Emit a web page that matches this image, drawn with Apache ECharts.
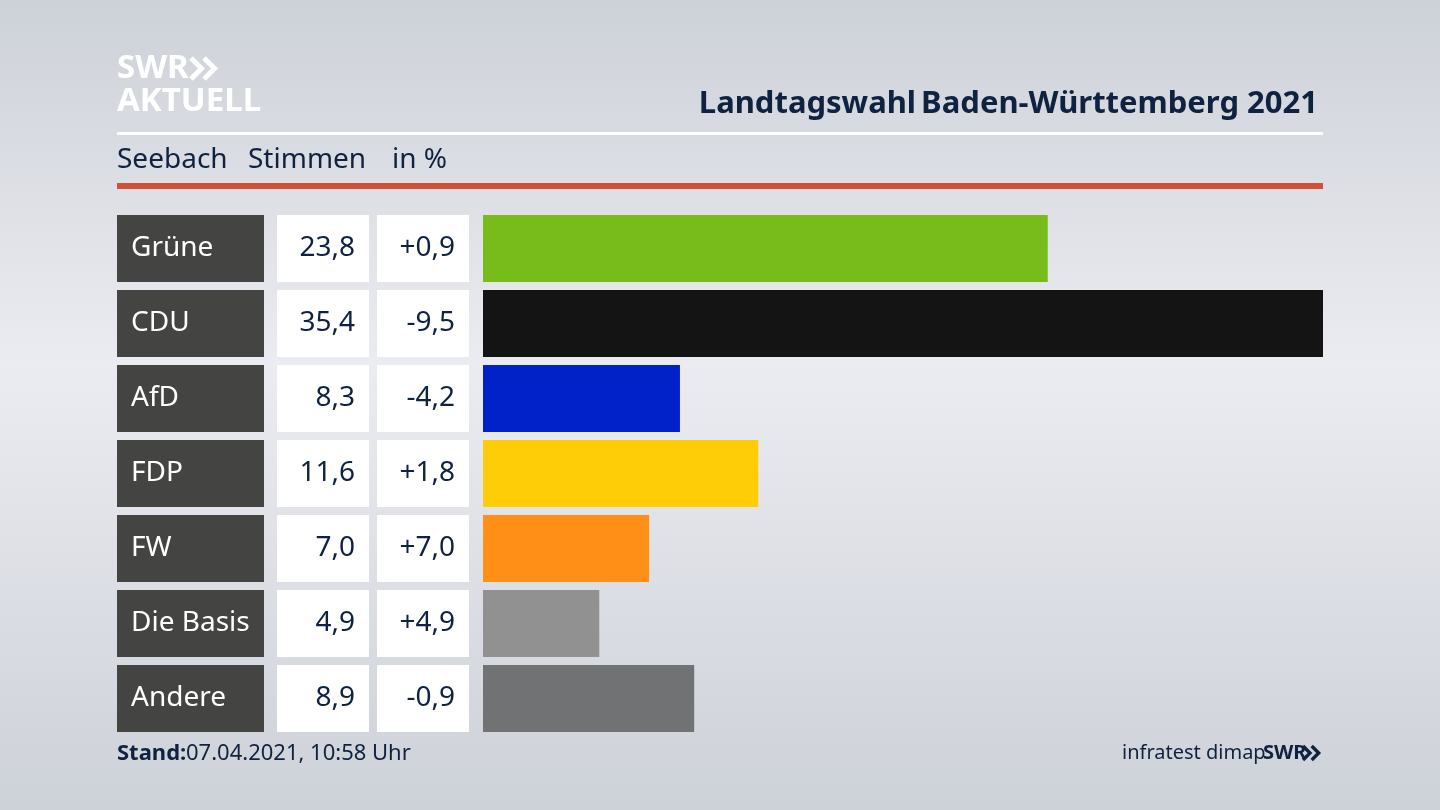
<!DOCTYPE html>
<html lang="de">
<head>
    <meta charset="UTF-8">
    <title>Landtagswahl Baden-Württemberg 2021</title>
    <script src="https://cdn.jsdelivr.net/npm/echarts@6/dist/echarts.min.js"></script>
    <style>
        html, body { margin: 0; padding: 0; }
        #chart { width: 1440px; height: 810px; }
    </style>
</head>
<body>
    <div id="chart"></div>
    <script>
        var parties = ['Grüne', 'CDU', 'AfD', 'FDP', 'FW', 'Die Basis', 'Andere'];
        var shares = [23.8, 35.4, 8.3, 11.6, 7.0, 4.9, 8.9];
        var changes = ['+0,9', '-9,5', '-4,2', '+1,8', '+7,0', '+4,9', '-0,9'];
        var barColors = ['#78bc1b', '#141414', '#0022c8', '#ffcc08', '#ff8f17', '#919191', '#717273'];

        var FONT = '"Noto Sans", sans-serif';
        var NAVY = '#0f2240';
        var rowTop = 211, rowsHeight = 525, barH = 67;

        // one grid per table column, all share the same row positions
        function column(left, width) {
            return { left: left, width: width, top: rowTop, height: rowsHeight };
        }
        var grids = [column(117, 147), column(277, 92), column(377, 92), column(483, 840)];
        var xAxes = grids.map(function(g, i) {
            return { gridIndex: i, type: 'value', min: 0, max: i == 3 ? 35.4 : 1, show: false };
        });
        var yAxes = grids.map(function(g, i) {
            return { gridIndex: i, type: 'category', data: parties, inverse: true, show: false };
        });

        function cellSeries(i, color, labels, textColor, pos, dist) {
            return {
                type: 'bar',
                xAxisIndex: i,
                yAxisIndex: i,
                barWidth: barH,
                silent: true,
                itemStyle: { color: color },
                data: parties.map(function() { return 1; }),
                label: {
                    show: true,
                    position: pos,
                    distance: dist,
                    color: textColor,
                    fontFamily: FONT,
                    fontSize: 28,
                    formatter: function(p) { return labels[p.dataIndex]; }
                }
            };
        }

        var shareLabels = shares.map(function(v) { return v.toFixed(1).replace('.', ','); });

        function chevrons(x, y, size, color) {
            return [0, 1].map(function(n) {
                var dx = x + n * size * 0.62;
                return {
                    type: 'polyline',
                    shape: { points: [[dx, y], [dx + size * 0.5, y + size * 0.5], [dx, y + size]] },
                    style: { stroke: color, fill: null, lineWidth: size * 0.24 }
                };
            });
        }

        function txt(x, y, text, size, color, weight, align) {
            return {
                type: 'text',
                x: x,
                y: y,
                style: {
                    text: text,
                    fill: color,
                    fontFamily: FONT,
                    fontSize: size,
                    fontWeight: weight || 'normal',
                    align: align || 'left',
                    verticalAlign: 'middle'
                }
            };
        }

        var graphics = [
            { type: 'rect', shape: { x: 117, y: 132, width: 1206, height: 3 }, style: { fill: '#ffffff' } },
            { type: 'rect', shape: { x: 117, y: 183, width: 1206, height: 6 }, style: { fill: '#cf5138' } },
            txt(117, 69, 'SWR', 33, '#ffffff', 'bold'),
            txt(117, 102, 'AKTUELL', 33, '#ffffff', 'bold'),
            txt(117, 160, 'Seebach', 28, NAVY),
            txt(248, 160, 'Stimmen', 28, NAVY),
            txt(392, 160, 'in %', 28, NAVY),
            txt(117, 754, 'Stand:', 22, NAVY, 'bold'),
            txt(186, 754, '07.04.2021, 10:58 Uhr', 22, NAVY),
            txt(1122, 753, 'infratest dimap', 20, NAVY),
            txt(1263, 753, 'SWR', 20, NAVY, 'bold')
        ].concat(chevrons(191, 58, 21, '#ffffff'), chevrons(1303, 746, 14, NAVY));

        var chart = echarts.init(document.getElementById('chart'));
        chart.setOption({
            animation: false,
            backgroundColor: new echarts.graphic.LinearGradient(0, 0, 0, 1, [
                { offset: 0, color: '#cdd1d8' },
                { offset: 0.45, color: '#ebecf1' },
                { offset: 1, color: '#cdd1d8' }
            ]),
            title: {
                right: 117,
                top: 84,
                text: '{b|Landtagswahl} {r|Baden-Württemberg 2021}',
                textStyle: {
                    rich: {
                        b: { fontFamily: FONT, fontSize: 31, fontWeight: 'bold', color: NAVY },
                        r: { fontFamily: FONT, fontSize: 31, color: NAVY }
                    }
                }
            },
            grid: grids,
            xAxis: xAxes,
            yAxis: yAxes,
            series: [
                cellSeries(0, '#444442', parties, '#ffffff', 'insideLeft', 14),
                cellSeries(1, '#ffffff', shareLabels, NAVY, 'insideRight', 14),
                cellSeries(2, '#ffffff', changes, NAVY, 'insideRight', 14),
                {
                    type: 'bar',
                    xAxisIndex: 3,
                    yAxisIndex: 3,
                    barWidth: barH,
                    silent: true,
                    data: shares,
                    itemStyle: {
                        color: function(p) { return barColors[p.dataIndex]; }
                    }
                }
            ],
            graphic: graphics
        });
    </script>
</body>
</html>
